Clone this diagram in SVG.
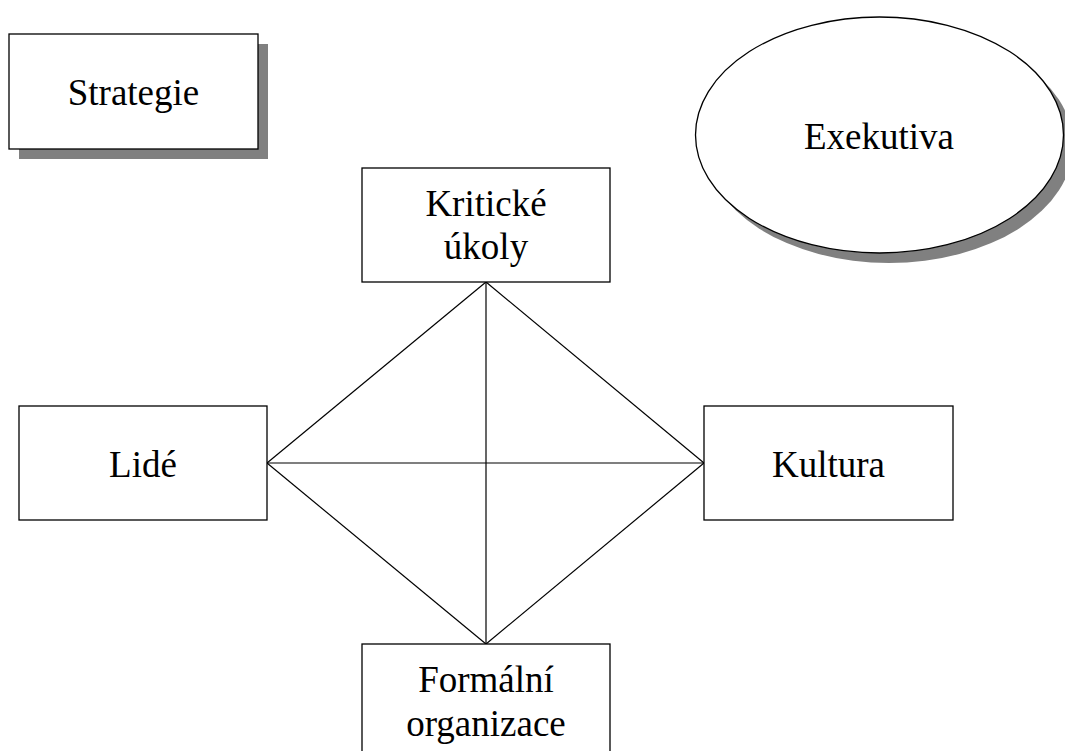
<svg xmlns="http://www.w3.org/2000/svg" width="1065" height="751" viewBox="0 0 1065 751" font-family="'Liberation Serif', 'Times New Roman', Times, 'DejaVu Serif', serif">
  <style>
    .box { fill: #ffffff; stroke: #000000; stroke-width: 1.3; }
    .shadow { fill: #808080; stroke: none; }
    .label { font-family: 'Liberation Serif', 'Times New Roman', Times, 'DejaVu Serif', serif; font-size: 37px; fill: #000000; text-anchor: middle; }
    .link { stroke: #000000; stroke-width: 1.2; fill: none; }
  </style>
  <rect width="1065" height="751" fill="#ffffff"/>

  <!-- connectors: diamond with both diagonals -->
  <g id="connectors">
    <line class="link" x1="486" y1="282" x2="267" y2="463"/>
    <line class="link" x1="486" y1="282" x2="704" y2="463"/>
    <line class="link" x1="267" y1="463" x2="486" y2="644"/>
    <line class="link" x1="704" y1="463" x2="486" y2="644"/>
    <line class="link" x1="486" y1="282" x2="486" y2="644"/>
    <line class="link" x1="267" y1="463" x2="704" y2="463"/>
  </g>

  <g id="strategie">
    <rect class="shadow" x="19" y="44" width="249" height="115"/>
    <rect class="box" x="9" y="34" width="249" height="115"/>
    <text class="label" x="133.5" y="105">Strategie</text>
  </g>

  <g id="exekutiva">
    <ellipse class="shadow" cx="889" cy="145" rx="184" ry="118"/>
    <ellipse class="box" cx="879.5" cy="135" rx="184" ry="118"/>
    <text class="label" x="879" y="149">Exekutiva</text>
  </g>

  <g id="kriticke-ukoly">
    <rect class="box" x="362" y="168" width="248" height="114"/>
    <text class="label" x="486" y="216">Kritické</text>
    <text class="label" x="486" y="259">úkoly</text>
  </g>

  <g id="lide">
    <rect class="box" x="19" y="406" width="248" height="114"/>
    <text class="label" x="143" y="477">Lidé</text>
  </g>

  <g id="kultura">
    <rect class="box" x="704" y="406" width="249" height="114"/>
    <text class="label" x="828.5" y="477">Kultura</text>
  </g>

  <g id="formalni-organizace">
    <rect class="box" x="362" y="644" width="248" height="120"/>
    <text class="label" x="486" y="692">Formální</text>
    <text class="label" x="486" y="736">organizace</text>
  </g>
</svg>
